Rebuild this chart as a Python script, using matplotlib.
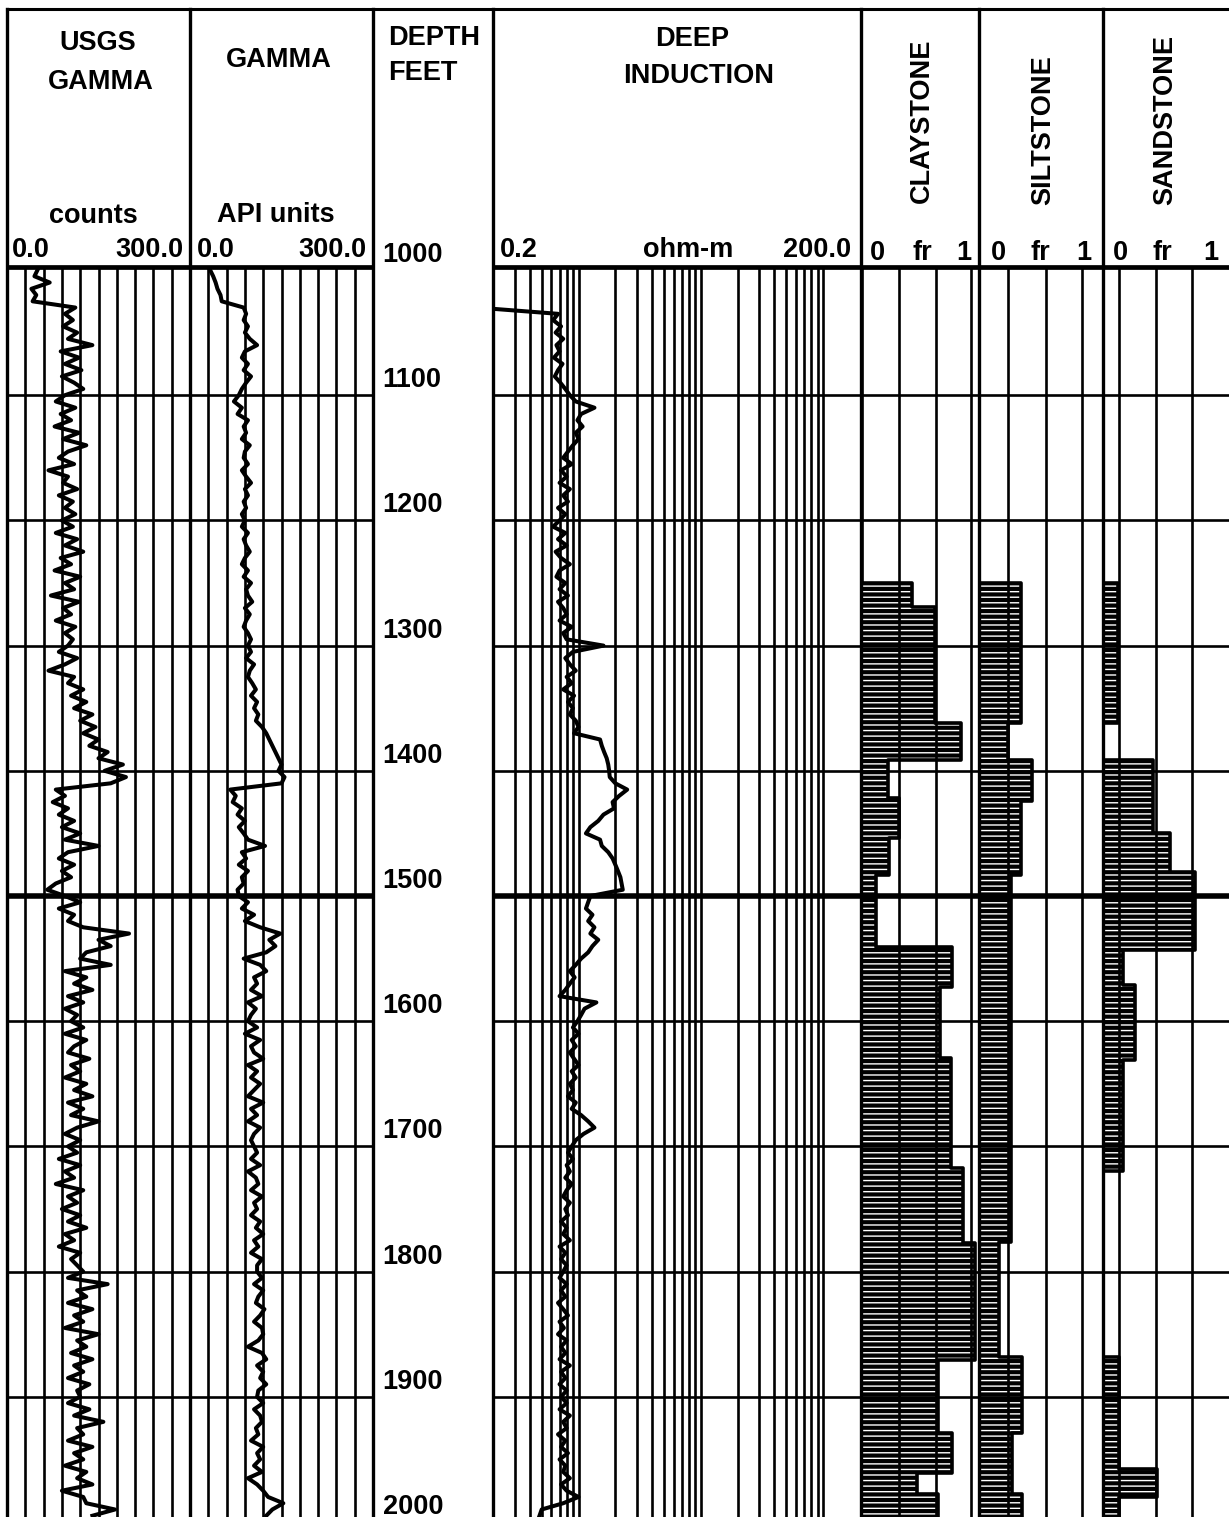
import numpy as np
import matplotlib
matplotlib.use("Agg")
from matplotlib import pyplot as plt
from matplotlib.ticker import NullLocator

plt.rcParams['font.family'] = ['Liberation Sans', 'DejaVu Sans']
plt.rcParams['hatch.linewidth'] = 1.0

# ---- data read off the log ----
# sampling grid of the two gamma curves (feet)
gr_depth = np.arange(1000, 2000, 5)

usgs_counts = [
    50, 45, 70, 40, 48, 42, 112, 95, 108, 92, 115, 100, 140, 88, 118, 95, 122, 90, 110, 125,
    95, 80, 112, 88, 105, 78, 118, 92, 130, 100, 85, 110, 68, 100, 92, 115, 85, 108, 95, 112,
    90, 108, 80, 115, 95, 125, 88, 105, 78, 120, 95, 110, 72, 118, 92, 105, 80, 112, 95, 108,
    100, 85, 115, 95, 68, 110, 100, 125, 105, 130, 110, 140, 120, 145, 125, 150, 135, 165, 150, 190,
    160, 195, 170, 80, 95, 75, 100, 85, 110, 90, 120, 95, 150, 100, 85, 110, 90, 105, 80, 66,
    95, 120, 85, 110, 100, 125, 200, 150, 170, 130, 120, 170, 95, 130, 110, 140, 100, 125, 95, 115,
    105, 125, 95, 130, 110, 100, 135, 105, 120, 95, 130, 110, 140, 100, 125, 105, 150, 115, 95, 120,
    100, 115, 85, 120, 95, 110, 80, 125, 100, 115, 90, 120, 100, 130, 95, 110, 85, 120, 105, 115,
    125, 100, 165, 115, 130, 100, 140, 110, 125, 95, 150, 115, 130, 105, 140, 110, 125, 100, 135, 115,
    120, 100, 135, 110, 158, 115, 125, 100, 140, 110, 125, 95, 130, 115, 140, 90, 125, 130, 177, 140,
]

gamma_api = [
    33, 38, 42, 45, 50, 52, 88, 92, 88, 95, 90, 98, 110, 90, 85, 95, 88, 100, 92, 85,
    80, 72, 85, 78, 95, 88, 92, 85, 98, 90, 88, 95, 85, 92, 100, 90, 95, 88, 92, 85,
    90, 85, 95, 88, 92, 98, 90, 85, 95, 88, 100, 92, 95, 102, 90, 98, 92, 88, 95, 100,
    95, 100, 92, 105, 98, 95, 102, 108, 100, 110, 105, 112, 108, 118, 125, 130, 135, 140, 145, 150,
    145, 155, 150, 66, 75, 70, 85, 78, 90, 80, 88, 95, 123, 85, 92, 80, 95, 85, 88, 78,
    80, 95, 85, 105, 90, 115, 148, 130, 140, 125, 88, 115, 125, 105, 110, 100, 118, 95, 108, 100,
    95, 110, 90, 115, 100, 105, 120, 95, 110, 100, 115, 105, 95, 120, 100, 110, 95, 115, 105, 100,
    105, 110, 100, 115, 95, 108, 112, 100, 118, 105, 110, 100, 115, 108, 120, 105, 112, 100, 118, 110,
    110, 118, 105, 120, 112, 108, 122, 115, 105, 118, 120, 112, 95, 118, 125, 110, 120, 115, 125, 112,
    110, 120, 105, 115, 118, 108, 112, 100, 120, 110, 115, 105, 118, 95, 110, 120, 128, 153, 135, 125,
]

ind_depth = np.concatenate([[1000, 1031], np.arange(1035, 2000, 5)])
ind_ohm = [
    0.2, 0.2,
    0.68, 0.62, 0.72, 0.65, 0.75, 0.66, 0.70, 0.63, 0.74, 0.68, 0.64, 0.71, 0.78,
    0.85, 0.95, 1.35, 1.05, 0.98, 1.08, 0.95, 1.0, 0.9, 0.82, 0.75, 0.88, 0.72, 0.8, 0.7, 0.85, 0.75, 0.82, 0.68, 0.78,
    0.7, 0.62, 0.78, 0.68, 0.8, 0.65, 0.72, 0.85, 0.7, 0.66, 0.78, 0.7, 0.82, 0.68, 0.75, 0.8, 0.7, 0.88, 0.75, 0.8,
    1.6, 0.9, 0.78, 0.85, 0.95, 0.8, 0.88, 0.75, 0.92, 0.82, 0.9, 0.85, 0.95, 1.0, 0.92, 1.5, 1.55, 1.62, 1.7, 1.75,
    1.78, 1.8, 2.0, 2.5, 2.15, 1.9, 1.95, 1.6, 1.45, 1.25, 1.15, 1.5, 1.55, 1.75, 1.9, 2.0, 2.1, 2.2, 2.25, 2.3,
    1.25, 1.2, 1.15, 1.3, 1.2, 1.35, 1.25, 1.45, 1.3, 1.2, 1.05, 0.95, 0.85, 0.93, 0.85, 0.78, 0.70, 1.4, 1.12, 1.05,
    0.98, 0.9, 1.0, 0.88, 0.95, 0.85, 0.92, 1.0, 0.88, 0.95, 0.85, 0.9, 0.82, 0.95, 0.88, 1.05, 1.2, 1.35, 1.1, 0.95,
    0.88, 0.82, 0.9, 0.8, 0.85, 0.78, 0.88, 0.8, 0.75, 0.85, 0.78, 0.82, 0.72, 0.8, 0.75, 0.85, 0.7, 0.78, 0.72, 0.8,
    0.75, 0.7, 0.8, 0.72, 0.78, 0.68, 0.75, 0.82, 0.7, 0.76, 0.68, 0.8, 0.72, 0.78, 0.7, 0.85, 0.72, 0.78, 0.7, 0.8,
    0.72, 0.8, 0.7, 0.85, 0.75, 0.8, 0.68, 0.78, 0.72, 0.82, 0.7, 0.78, 0.75, 0.85, 0.72, 0.8, 1.0, 0.75, 0.5, 0.48,
]

# lithology fractions, step tops in feet
clay_top = [998, 1250, 1269, 1362, 1391, 1422, 1454, 1483, 1541, 1573, 1629, 1717, 1777, 1871, 1929, 1961, 1978]
clay_fr = [0, 0.43, 0.62, 0.85, 0.22, 0.32, 0.23, 0.12, 0.77, 0.67, 0.76, 0.86, 0.97, 0.65, 0.77, 0.47, 0.65]
silt_top = [998, 1250, 1362, 1391, 1424, 1483, 1776, 1868, 1929, 1978]
silt_fr = [0, 0.34, 0.23, 0.43, 0.34, 0.26, 0.16, 0.35, 0.27, 0.35]
sand_top = [998, 1250, 1362, 1391, 1450, 1481, 1543, 1571, 1631, 1720, 1868, 1958, 1980]
sand_fr = [0, 0.12, 0, 0.40, 0.53, 0.73, 0.16, 0.25, 0.16, 0, 0.13, 0.43, 0.13]

depth_labels = list(range(1000, 2001, 100))

# ---- layout (pixels) ----
W, H = 1229, 1517
TOP, BOT = 268, 1517
D_TOP, D_BOT = 998.4, 1996.0
depth_lines = list(range(1100, 2000, 100))
CURVE_LW = 2.9

fig = plt.figure(figsize=(W / 100, H / 100), dpi=100)
fig.patch.set_facecolor('white')


def px_axes(x0, x1, y0=TOP, y1=BOT):
    return fig.add_axes([x0 / W, 1 - y1 / H, (x1 - x0) / W, (y1 - y0) / H])


def track(ax, xlim, xgrid, log=False, hlines=True):
    if log:
        ax.set_xscale('log')
    ax.set_xlim(*xlim)
    ax.set_ylim(D_BOT, D_TOP)
    ax.set_xticks(xgrid)
    ax.xaxis.set_minor_locator(NullLocator())
    ax.set_yticks(depth_lines if hlines else [])
    ax.yaxis.set_minor_locator(NullLocator())
    ax.tick_params(length=0, labelbottom=False, labelleft=False)
    ax.grid(True, color='black', lw=1.9)
    if hlines:
        ax.axhline(1500, color='black', lw=4.0, zorder=2.6)
    for s in ax.spines.values():
        s.set_visible(False)
    ax.set_axisbelow(False)
    ax.patch.set_alpha(0)


# gamma tracks
ax1 = px_axes(7, 190)
track(ax1, (0, 300), range(30, 300, 30))
ax1.plot(usgs_counts, gr_depth, color='black', lw=CURVE_LW, zorder=3)

ax2 = px_axes(190, 373)
track(ax2, (0, 300), range(30, 300, 30))
ax2.plot(gamma_api, gr_depth, color='black', lw=CURVE_LW, zorder=3)

# depth track
axd = px_axes(373, 493)
axd.set_ylim(D_BOT, D_TOP)
axd.set_xlim(0, 1)
axd.axis('off')
for d in depth_labels:
    axd.annotate(str(d), xy=(0.08, d), xycoords=('axes fraction', 'data'),
                 xytext=(0, 5.8), textcoords='offset points', va='baseline',
                 fontsize=19.5, fontweight='bold', annotation_clip=False)

# deep induction
ind_grid = [0.3, 0.4, 0.5, 0.6, 0.7, 0.8, 0.9, 1, 2, 3, 4, 5, 6, 7, 8, 9, 10,
            20, 30, 40, 50, 60, 70, 80, 90, 100]
ax3 = px_axes(493, 860)
track(ax3, (0.2, 200), ind_grid, log=True)
ax3.plot(ind_ohm, ind_depth, color='black', lw=CURVE_LW, zorder=3)


# lithology tracks
def lith_track(x0, x1, grid, tops, frs):
    ax = px_axes(x0, x1)
    track(ax, (0, 1), grid)
    edges = np.append(tops, D_BOT)
    ys = np.repeat(edges, 2)[1:-1]
    xs = np.repeat(frs, 2)
    ax.fill_betweenx(ys, 0, xs, facecolor='black', edgecolor='white',
                     hatch='---', lw=0, zorder=1)
    ax.plot(xs, ys, color='black', lw=2.6, zorder=2)
    return ax


lith_track(862, 979, [0.316, 0.632, 0.93], clay_top, clay_fr)
lith_track(979, 1103, [0.236, 0.537, 0.83], silt_top, silt_fr)
lith_track(1103, 1229, [0.127, 0.42, 0.706], sand_top, sand_fr)

# ---- frame and header ----
ov = fig.add_axes([0, 0, 1, 1], zorder=10)
ov.set_xlim(0, W)
ov.set_ylim(H, 0)
ov.axis('off')
ov.patch.set_alpha(0)

ov.plot([7, W], [9, 9], color='black', lw=2.2)
for xs in ([7, 373], [493, W]):
    ov.plot(xs, [266.5, 266.5], color='black', lw=3.4, solid_capstyle='butt')
for x in [7, 190, 373, 493, 861, 979, 1103]:
    ov.plot([x, x], [9, H], color='black', lw=2.4)

fs = 19.5
kw = dict(fontsize=fs, fontweight='bold', va='baseline')
ov.text(98, 50, 'USGS', ha='center', **kw)
ov.text(101, 89, 'GAMMA', ha='center', **kw)
ov.text(279, 67, 'GAMMA', ha='center', **kw)
ov.text(388, 45, 'DEPTH', ha='left', **kw)
ov.text(388, 80, 'FEET', ha='left', **kw)
ov.text(692, 46, 'DEEP', ha='center', **kw)
ov.text(699, 83, 'INDUCTION', ha='center', **kw)
ov.text(93, 223, 'counts', ha='center', **kw)
ov.text(276, 222, 'API units', ha='center', **kw)
ov.text(12, 257, '0.0', ha='left', **kw)
ov.text(183, 257, '300.0', ha='right', **kw)
ov.text(197, 257, '0.0', ha='left', **kw)
ov.text(366, 257, '300.0', ha='right', **kw)
ov.text(500, 257, '0.2', ha='left', **kw)
ov.text(688, 257, 'ohm-m', ha='center', **kw)
ov.text(851, 257, '200.0', ha='right', **kw)

for name, xc, yc, x_0, x_fr, x_1 in [('CLAYSTONE', 922, 121, 877, 922, 971),
                                      ('SILTSTONE', 1043, 130, 998, 1040, 1091),
                                      ('SANDSTONE', 1165, 120, 1120, 1162, 1218)]:
    ov.text(xc, yc, name, rotation=90, ha='center', va='center', fontsize=fs, fontweight='bold')
    ov.text(x_0, 260, '0', ha='center', **kw)
    ov.text(x_fr, 260, 'fr', ha='center', **kw)
    ov.text(x_1, 260, '1', ha='right', **kw)

fig.savefig('out.png', dpi=100, facecolor='white')
